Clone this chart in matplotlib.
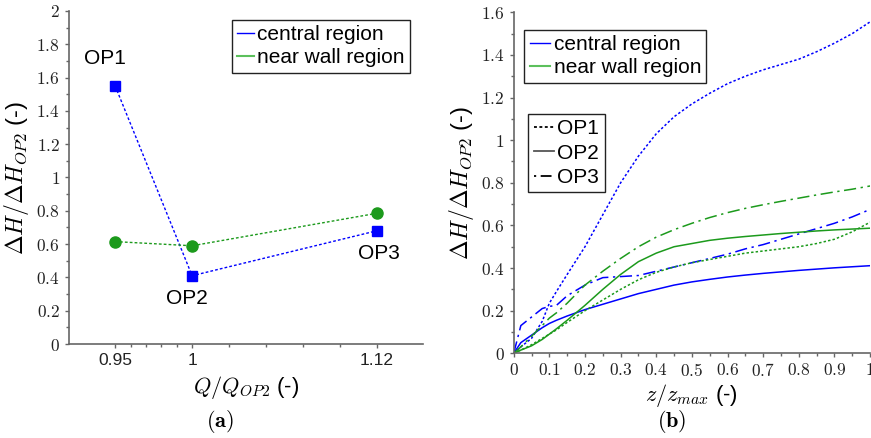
import matplotlib
matplotlib.use("Agg")
import matplotlib.pyplot as plt
from matplotlib.ticker import FuncFormatter, MultipleLocator, FixedLocator
from matplotlib.lines import Line2D

plt.rcParams['mathtext.fontset'] = 'cm'
plt.rcParams['font.family'] = ['Liberation Sans', 'DejaVu Sans']

# ---------------- data: panel (a) ----------------
q_ratio = [0.95, 1.0, 1.12]
op_names = ['OP1', 'OP2', 'OP3']
dh_central = [1.55, 0.41, 0.68]
dh_wall = [0.615, 0.59, 0.785]
q_tick_labels = ['0.95', '1', '1.12']

# ---------------- data: panel (b) ----------------
z = [0, 0.02, 0.05, 0.08, 0.1, 0.12, 0.15, 0.2, 0.25, 0.3, 0.35, 0.4, 0.45,
     0.5, 0.55, 0.6, 0.65, 0.7, 0.75, 0.8, 0.85, 0.9, 0.95, 1.0]
op1_central = [0, 0.03, 0.07, 0.15, 0.235, 0.29, 0.37, 0.50, 0.65, 0.80, 0.925,
               1.03, 1.11, 1.17, 1.22, 1.265, 1.30, 1.33, 1.355, 1.38, 1.415,
               1.455, 1.50, 1.555]
op2_central = [0, 0.05, 0.085, 0.12, 0.14, 0.155, 0.175, 0.205, 0.23, 0.255,
               0.28, 0.30, 0.32, 0.335, 0.347, 0.358, 0.367, 0.375, 0.382,
               0.389, 0.395, 0.401, 0.406, 0.411]
op3_central = [0, 0.13, 0.17, 0.21, 0.22, 0.225, 0.27, 0.32, 0.355, 0.36,
               0.365, 0.385, 0.405, 0.425, 0.445, 0.465, 0.49, 0.51, 0.535,
               0.56, 0.585, 0.61, 0.64, 0.675]
op1_wall = [0, 0.015, 0.04, 0.07, 0.09, 0.11, 0.145, 0.20, 0.25, 0.30, 0.345,
            0.38, 0.405, 0.425, 0.44, 0.455, 0.47, 0.48, 0.49, 0.50, 0.515,
            0.535, 0.57, 0.615]
op2_wall = [0, 0.015, 0.035, 0.065, 0.09, 0.115, 0.155, 0.225, 0.30, 0.37,
            0.43, 0.47, 0.50, 0.515, 0.53, 0.54, 0.548, 0.555, 0.562, 0.568,
            0.574, 0.579, 0.583, 0.587]
op3_wall = [0, 0.03, 0.08, 0.13, 0.165, 0.19, 0.235, 0.32, 0.385, 0.445, 0.50,
            0.545, 0.58, 0.61, 0.637, 0.66, 0.68, 0.697, 0.713, 0.728, 0.743,
            0.757, 0.77, 0.785]

BLUE = '#0000ff'
GREEN = '#1c9a1c'
SPINE = '#666666'

fig = plt.figure(figsize=(8.71, 4.38), dpi=100)
ax1 = fig.add_axes([0.0792, 0.2146, 0.4064, 0.7603])
ax2 = fig.add_axes([0.5898, 0.1934, 0.4091, 0.7785])

mathfmt = FuncFormatter(lambda v, p: f'${v:g}$')

def style_axes(ax):
    for s in ['top', 'right']:
        ax.spines[s].set_visible(False)
    for s in ['left', 'bottom']:
        ax.spines[s].set_color(SPINE)
        ax.spines[s].set_linewidth(1.2)
    ax.tick_params(which='both', direction='out', color=SPINE, width=1.0,
                   labelcolor='#222222')
    ax.tick_params(which='major', length=3)
    ax.tick_params(which='minor', length=2)

# ---------------- panel (a) ----------------
style_axes(ax1)
ax1.plot(q_ratio, dh_central, color=BLUE, ls=(0, (2, 1.5)), lw=1.0,
         marker='s', ms=7.5, mfc=BLUE, mec=BLUE)
ax1.plot(q_ratio, dh_wall, color=GREEN, ls=(0, (2, 1.5)), lw=1.0,
         marker='o', ms=8, mfc=GREEN, mec=GREEN)
offsets = [(-7, 20), (-3.7, -16.3), (1.2, -16.7)]
for x, y, name, off in zip(q_ratio, dh_central, op_names, offsets):
    ax1.annotate(name, (x, y), xytext=off, textcoords='offset points',
                 ha='center', va='center', fontsize=15)
ax1.set_xlim(0.92, 1.15)
ax1.set_ylim(0, 2)
ax1.set_xticks(q_ratio)
ax1.set_xticklabels(q_tick_labels, fontsize=12.5)
ax1.xaxis.set_minor_locator(FixedLocator([0.96, 0.97, 0.98, 0.99, 1.024,
                                          1.048, 1.072, 1.096]))
ax1.yaxis.set_major_locator(MultipleLocator(0.2))
ax1.yaxis.set_minor_locator(MultipleLocator(0.1))
ax1.yaxis.set_major_formatter(mathfmt)
ax1.tick_params(axis='y', labelsize=12.5)
ax1.set_ylabel(r'$\Delta H/\Delta H_{OP2}$ (-)', fontsize=17, labelpad=4)
ax1.set_xlabel(r'$Q/Q_{OP2}$ (-)', fontsize=16, labelpad=4)

h_c = Line2D([], [], color=BLUE, lw=1.0)
h_w = Line2D([], [], color='#5cc05c', lw=1.5)
leg1 = ax1.legend([h_c, h_w], ['central region', 'near wall region'],
                  loc='upper right', bbox_to_anchor=(0.963, 0.973),
                  bbox_transform=ax1.transAxes, borderaxespad=0,
                  fontsize=15, handlelength=0.8, handletextpad=0.15,
                  labelspacing=0.2, borderpad=0.25, fancybox=False,
                  framealpha=1, edgecolor='#222222')
leg1.get_frame().set_linewidth(1.0)

# ---------------- panel (b) ----------------
style_axes(ax2)
dot = (0, (1.6, 1.4))
dashdot = (0, (8, 3, 1.5, 3))
ax2.plot(z, op1_central, color=BLUE, ls=dot, lw=1.1)
ax2.plot(z, op2_central, color=BLUE, ls='-', lw=1.1)
ax2.plot(z, op3_central, color=BLUE, ls=dashdot, lw=1.1)
ax2.plot(z, op1_wall, color=GREEN, ls=dot, lw=1.1)
ax2.plot(z, op2_wall, color=GREEN, ls='-', lw=1.1)
ax2.plot(z, op3_wall, color=GREEN, ls=dashdot, lw=1.1)
ax2.set_xlim(0, 1)
ax2.set_ylim(0, 1.6)
ax2.xaxis.set_major_locator(MultipleLocator(0.1))
ax2.xaxis.set_minor_locator(MultipleLocator(0.05))
ax2.yaxis.set_major_locator(MultipleLocator(0.2))
ax2.yaxis.set_minor_locator(MultipleLocator(0.1))
ax2.xaxis.set_major_formatter(mathfmt)
ax2.yaxis.set_major_formatter(mathfmt)
ax2.tick_params(axis='both', labelsize=12.5)
ax2.set_ylabel(r'$\Delta H/\Delta H_{OP2}$ (-)', fontsize=17, labelpad=4)
ax2.set_xlabel(r'$z/z_{max}$ (-)', fontsize=16, labelpad=2)

legA = ax2.legend([h_c, h_w], ['central region', 'near wall region'],
                  loc='upper left', bbox_to_anchor=(0.030, 0.948),
                  bbox_transform=ax2.transAxes, borderaxespad=0,
                  fontsize=15, handlelength=1.0, handletextpad=0.15,
                  labelspacing=0.2, borderpad=0.25, fancybox=False,
                  framealpha=1, edgecolor='#222222')
legA.get_frame().set_linewidth(1.0)
ax2.add_artist(legA)
h1 = Line2D([], [], color='black', ls=(0, (1.6, 1.4)), lw=1.3)
h2 = Line2D([], [], color='#555555', ls='-', lw=1.3)
h3 = Line2D([], [], color='black', ls=(0, (1.2, 2.5, 6, 2)), lw=1.3)
legB = ax2.legend([h1, h2, h3], op_names, loc='upper left',
                  bbox_to_anchor=(0.041, 0.701), bbox_transform=ax2.transAxes,
                  borderaxespad=0, fontsize=15, handlelength=1.0,
                  handletextpad=0.15, labelspacing=0.25, borderpad=0.25,
                  fancybox=False, framealpha=1, edgecolor='#222222')
legB.get_frame().set_linewidth(1.0)

fig.text(0.2526, 0.0372, r'$\mathbf{(a)}$', ha='center', va='center', fontsize=16)
fig.text(0.7715, 0.0372, r'$\mathbf{(b)}$', ha='center', va='center', fontsize=16)

fig.savefig('out.png', dpi=100)
